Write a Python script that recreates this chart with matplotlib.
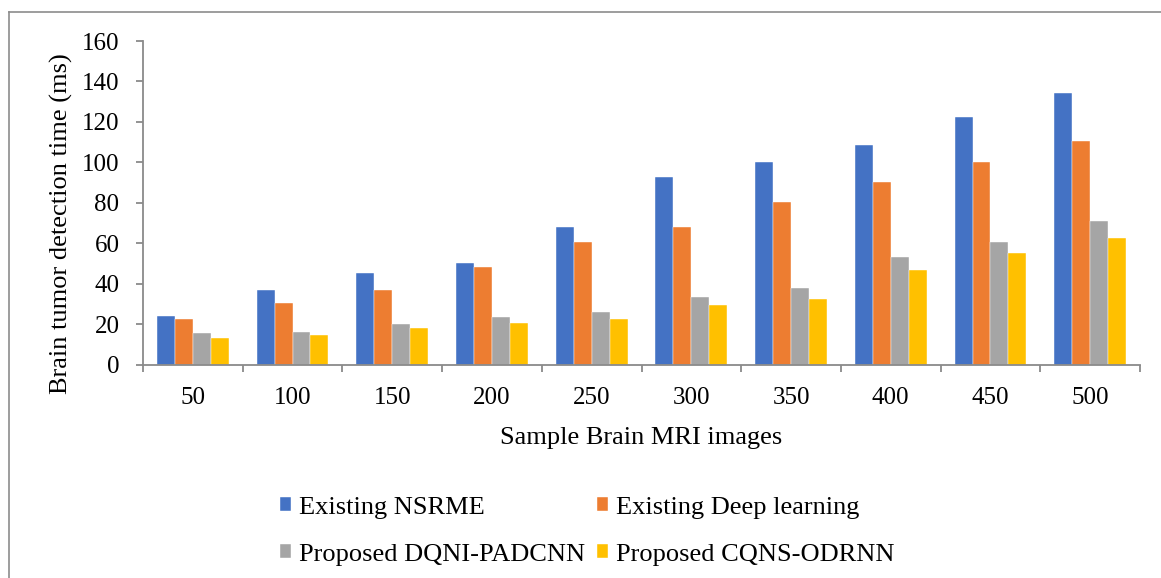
import numpy as np
import matplotlib
matplotlib.use("Agg")
import matplotlib.pyplot as plt
from matplotlib.lines import Line2D

# detection time (ms) for each number of sample images
sample_sizes = ["50", "100", "150", "200", "250", "300", "350", "400", "450", "500"]
nsrme = [24, 36.6, 45.1, 50.1, 68, 92.6, 100.3, 108.7, 122.6, 134.4]
deep_learning = [22.4, 30.3, 36.6, 48.1, 60.5, 68, 80.2, 90.1, 100, 110.4]
dqni_padcnn = [15.5, 16.1, 20.1, 23.4, 26.2, 33.3, 37.6, 53, 60.5, 70.8]
cqns_odrnn = [13, 14.7, 18, 20.3, 22.6, 29.2, 32.3, 46.8, 54.9, 62.4]

series_names = ["Existing NSRME", "Existing Deep learning",
                "Proposed DQNI-PADCNN", "Proposed CQNS-ODRNN"]
series_colors = ["#4472C4", "#ED7D31", "#A5A5A5", "#FFC000"]

plt.rcParams['font.family'] = ['Liberation Serif', 'DejaVu Serif']

fig = plt.figure(figsize=(11.61, 5.78), dpi=100)
ax = fig.add_axes([143 / 1161, 1 - 364.5 / 578, (1140 - 143) / 1161, (364.5 - 41) / 578])

x = np.arange(len(sample_sizes))
width = 0.18
all_series = [nsrme, deep_learning, dqni_padcnn, cqns_odrnn]
for i, (vals, name, col) in enumerate(zip(all_series, series_names, series_colors)):
    ax.bar(x + (i - 1.5) * width, vals, width, color=col, label=name,
           edgecolor="white", linewidth=0.3)

ax.set_xlim(-0.5, len(sample_sizes) - 0.5)
ax.set_ylim(0, 160)
ax.set_yticks(range(0, 161, 20))

# category labels in the middle, tick marks on the boundaries
ax.set_xticks(np.arange(-0.5, len(sample_sizes), 1.0))
ax.set_xticklabels([])
ax.set_xticks(x, minor=True)
ax.set_xticklabels(sample_sizes, minor=True)

axis_gray = "#8a8a8a"
for side in ["top", "right"]:
    ax.spines[side].set_visible(False)
for side in ["left", "bottom"]:
    ax.spines[side].set_color(axis_gray)
    ax.spines[side].set_linewidth(1.3)

ax.tick_params(axis="y", which="major", direction="out", length=5, width=1.3,
               color=axis_gray, labelsize=18, pad=12)
ax.tick_params(axis="x", which="major", direction="out", length=5, width=1.3,
               color=axis_gray)
ax.tick_params(axis="x", which="minor", length=0, labelsize=18, pad=16)

ax.set_ylabel("Brain tumor detection time (ms)", fontsize=19)
ax.yaxis.set_label_coords(-0.07, 0.437)
ax.set_xlabel("Sample Brain MRI images", fontsize=19, labelpad=13)

# legend filled row by row: two entries per row
handles, labels = ax.get_legend_handles_labels()
order = [0, 2, 1, 3]
fig.legend([handles[k] for k in order], [labels[k] for k in order],
           ncol=2, loc="center left",
           bbox_to_anchor=(280 / 1161, 0.081), frameon=False, fontsize=19,
           handlelength=0.42, handleheight=0.42, handletextpad=0.3,
           columnspacing=0.45, labelspacing=0.95, borderpad=0, borderaxespad=0)

# outer border around the chart area
border = "#8c8c8c"
fig.add_artist(Line2D([9 / 1161, 1], [1 - 11.5 / 578, 1 - 11.5 / 578],
                      transform=fig.transFigure, color=border, lw=1.2))
fig.add_artist(Line2D([9 / 1161, 9 / 1161], [0, 1 - 11.5 / 578],
                      transform=fig.transFigure, color=border, lw=1.2))

fig.savefig("out.png", dpi=100)
